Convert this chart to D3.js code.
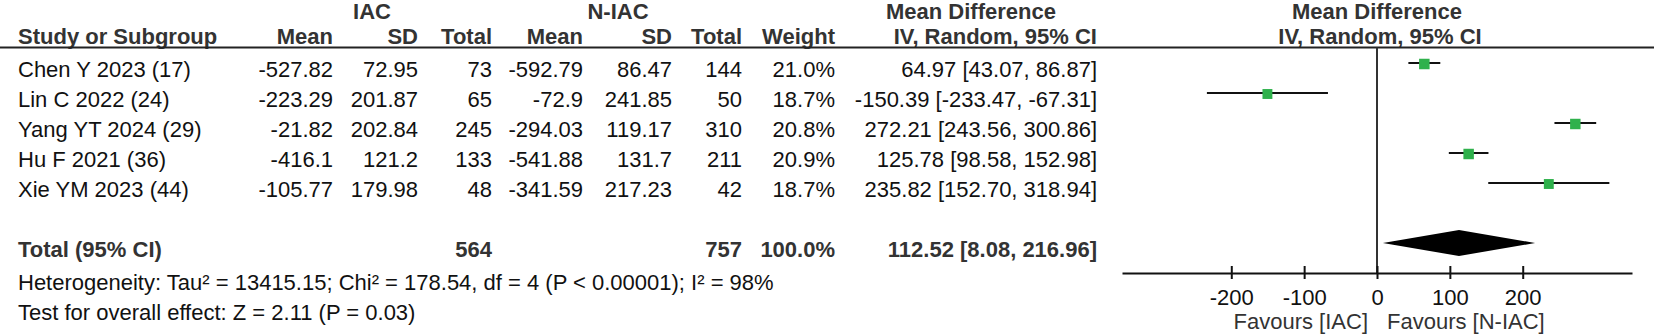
<!doctype html>
<html>
<head>
  <meta charset="utf-8">
  <title>Forest plot IAC vs N-IAC</title>
  <style>
    body { margin: 0; background: #fff; }
    svg text { font-family: "Liberation Sans", Arial, sans-serif; font-size: 22px; }
  </style>
</head>
<body>
<div class="graphContainer"></div>
<script src="https://cdn.jsdelivr.net/npm/d3@7"></script>
<script>
// study rows
let studies   = ["Chen Y 2023 (17)", "Lin C 2022 (24)", "Yang YT 2024 (29)", "Hu F 2021 (36)", "Xie YM 2023 (44)"];
let iacMean   = ["-527.82", "-223.29", "-21.82", "-416.1", "-105.77"];
let iacSD     = ["72.95", "201.87", "202.84", "121.2", "179.98"];
let iacTotal  = [73, 65, 245, 133, 48];
let niacMean  = ["-592.79", "-72.9", "-294.03", "-541.88", "-341.59"];
let niacSD    = ["86.47", "241.85", "119.17", "131.7", "217.23"];
let niacTotal = [144, 50, 310, 211, 42];
let weights   = [21.0, 18.7, 20.8, 20.9, 18.7];
let md        = [64.97, -150.39, 272.21, 125.78, 235.82];
let ciLow     = [43.07, -233.47, 243.56, 98.58, 152.70];
let ciHigh    = [86.87, -67.31, 300.86, 152.98, 318.94];

// pooled result
let totalLabel = "Total (95% CI)";
let totalIac = 564, totalNiac = 757, totalWeight = 100.0;
let totalMd = 112.52, totalLow = 8.08, totalHigh = 216.96;
let heterogeneity = "Heterogeneity: Tau\u00b2 = 13415.15; Chi\u00b2 = 178.54, df = 4 (P < 0.00001); I\u00b2 = 98%";
let overallTest = "Test for overall effect: Z = 2.11 (P = 0.03)";

let tickValues = [-200, -100, 0, 100, 200];
let favourLeft = "Favours [IAC]", favourRight = "Favours [N-IAC]";

function forest() {
    var w = 1654, h = 336;

    var svg = d3.select(".graphContainer")
        .append("svg")
        .attr("width", w)
        .attr("height", h);

    var x = d3.scaleLinear().domain([-350, 350]).range([1122, 1632]);
    // row index -> y of the marker; text sits a little lower
    var y = d3.scaleLinear().domain([0, 4]).range([63, 183]);
    var size = d3.scaleSqrt().domain([0, 21]).range([0, 10.5]);
    var textDy = 14;

    // plain hyphen for negatives, like the original
    let loc = d3.formatLocale({ decimal: ".", thousands: ",", grouping: [3], currency: ["", ""], minus: "-" });
    let fmt = loc.format(".2f");
    let ciText = (m, l, u) => fmt(m) + " [" + fmt(l) + ", " + fmt(u) + "]";

    // column right edges
    let cols = { iacMean: 333, iacSD: 418, iacTotal: 492, niacMean: 583, niacSD: 672, niacTotal: 742, weight: 835, ci: 1097 };

    // header
    let hdrY1 = 19, hdrY2 = 44;
    let hdr = svg.append("g").attr("fill", "#333").attr("font-weight", "bold");
    hdr.append("text").attr("x", 372).attr("y", hdrY1).attr("text-anchor", "middle").text("IAC");
    hdr.append("text").attr("x", 618).attr("y", hdrY1).attr("text-anchor", "middle").text("N-IAC");
    hdr.append("text").attr("x", 886).attr("y", hdrY1).text("Mean Difference");
    hdr.append("text").attr("x", x(0)).attr("y", hdrY1).attr("text-anchor", "middle").text("Mean Difference");

    hdr.append("text").attr("x", 18).attr("y", hdrY2).text("Study or Subgroup");
    [["Mean", cols.iacMean], ["SD", cols.iacSD], ["Total", cols.iacTotal],
     ["Mean", cols.niacMean], ["SD", cols.niacSD], ["Total", cols.niacTotal],
     ["Weight", cols.weight], ["IV, Random, 95% CI", cols.ci]].forEach(function(d) {
        hdr.append("text").attr("x", d[1]).attr("y", hdrY2).attr("text-anchor", "end").text(d[0]);
    });
    hdr.append("text").attr("x", x(0) + 3).attr("y", hdrY2).attr("text-anchor", "middle").text("IV, Random, 95% CI");

    svg.append("line")
        .attr("x1", 0).attr("x2", w)
        .attr("y1", 47.5).attr("y2", 47.5)
        .attr("stroke", "#222").attr("stroke-width", 2);

    // study rows
    let body = svg.append("g").attr("fill", "#111");
    studies.forEach(function(s, i) {
        let ty = y(i) + textDy;
        body.append("text").attr("x", 18).attr("y", ty).text(s);
        [[iacMean[i], cols.iacMean], [iacSD[i], cols.iacSD], [iacTotal[i], cols.iacTotal],
         [niacMean[i], cols.niacMean], [niacSD[i], cols.niacSD], [niacTotal[i], cols.niacTotal],
         [weights[i].toFixed(1) + "%", cols.weight], [ciText(md[i], ciLow[i], ciHigh[i]), cols.ci]].forEach(function(d) {
            body.append("text").attr("x", d[1]).attr("y", ty).attr("text-anchor", "end").text(d[0]);
        });
    });

    // total row
    let tot = svg.append("g").attr("fill", "#333").attr("font-weight", "bold");
    let tty = y(6) + textDy;
    tot.append("text").attr("x", 18).attr("y", tty).text(totalLabel);
    [[totalIac, cols.iacTotal], [totalNiac, cols.niacTotal],
     [totalWeight.toFixed(1) + "%", cols.weight], [ciText(totalMd, totalLow, totalHigh), cols.ci]].forEach(function(d) {
        tot.append("text").attr("x", d[1]).attr("y", tty).attr("text-anchor", "end").text(d[0]);
    });

    body.append("text").attr("x", 18).attr("y", y(7.1) + textDy).text(heterogeneity);
    body.append("text").attr("x", 18).attr("y", y(8.1) + textDy).text(overallTest);

    // plot
    let axisY = 273;

    svg.append("line")
        .attr("x1", x(0)).attr("x2", x(0))
        .attr("y1", 47.5).attr("y2", axisY)
        .attr("stroke", "#333").attr("stroke-width", 2);

    let marks = svg.append("g");
    marks.selectAll(".ci").data(md).enter().append("line")
        .attr("x1", (d, i) => x(ciLow[i]))
        .attr("x2", (d, i) => x(ciHigh[i]))
        .attr("y1", (d, i) => y(i))
        .attr("y2", (d, i) => y(i))
        .attr("stroke", "#111").attr("stroke-width", 2);

    marks.selectAll(".sq").data(md).enter().append("rect")
        .attr("x", (d, i) => x(d) - size(weights[i]) / 2)
        .attr("y", (d, i) => y(i) + 1 - size(weights[i]) / 2)
        .attr("width", (d, i) => size(weights[i]))
        .attr("height", (d, i) => size(weights[i]))
        .attr("fill", "#2fb14c");

    let dy = y(6), half = 13;
    marks.append("polygon")
        .attr("points", [[x(totalLow), dy], [x(totalMd), dy - half], [x(totalHigh), dy], [x(totalMd), dy + half]].join(" "))
        .attr("fill", "#000");

    let axis = svg.append("g")
        .attr("transform", `translate(0,${axisY})`)
        .call(d3.axisBottom(x).tickValues(tickValues).tickSizeOuter(0).tickFormat(loc.format("d")));
    axis.select(".domain").attr("stroke", "#111").attr("stroke-width", 2);
    axis.selectAll(".tick line").attr("y1", -7).attr("y2", 6).attr("stroke", "#111").attr("stroke-width", 2);
    axis.selectAll(".tick text")
        .attr("y", 32).attr("dy", 0)
        .attr("fill", "#111")
        .style("font-size", "22px")
        .style("font-family", "'Liberation Sans', Arial, sans-serif");

    svg.append("text").attr("x", x(0) - 9).attr("y", 329).attr("text-anchor", "end").attr("fill", "#333").text(favourLeft);
    svg.append("text").attr("x", x(0) + 10).attr("y", 329).attr("fill", "#333").text(favourRight);
}

forest();
</script>
</body>
</html>
